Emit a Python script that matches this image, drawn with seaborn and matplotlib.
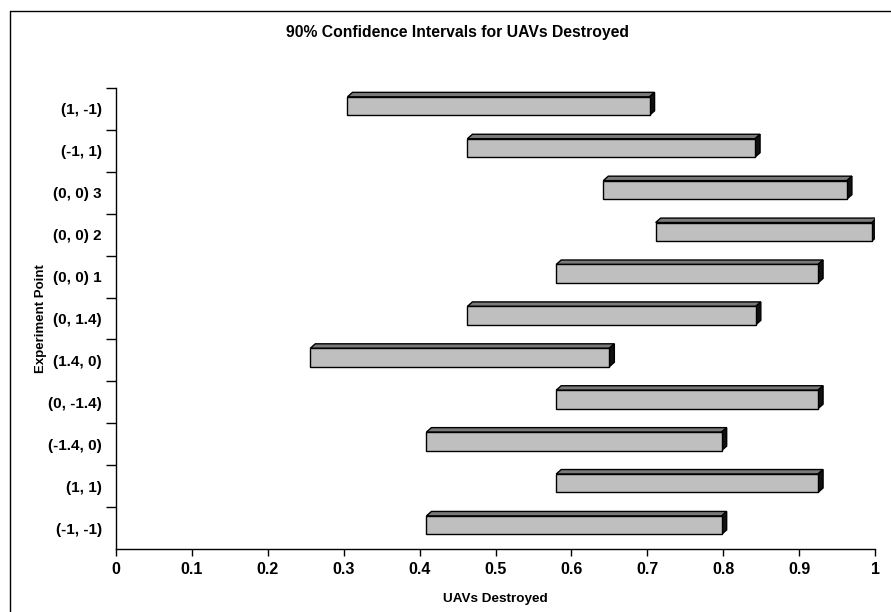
import matplotlib
matplotlib.use("Agg")
import matplotlib.pyplot as plt
from matplotlib.patches import Polygon
from matplotlib.lines import Line2D
import seaborn as sns
import pandas as pd
import numpy as np

categories = ["(1, -1)", "(-1, 1)", "(0, 0) 3", "(0, 0) 2", "(0, 0) 1", "(0, 1.4)",
              "(1.4, 0)", "(0, -1.4)", "(-1.4, 0)", "(1, 1)", "(-1, -1)"]
lower = [0.305, 0.463, 0.642, 0.711, 0.580, 0.463, 0.256, 0.580, 0.409, 0.580, 0.409]
upper = [0.703, 0.842, 0.963, 0.996, 0.925, 0.843, 0.650, 0.925, 0.798, 0.925, 0.798]
xticks = [0, 0.1, 0.2, 0.3, 0.4, 0.5, 0.6, 0.7, 0.8, 0.9, 1]
xticklabels = ["0", "0.1", "0.2", "0.3", "0.4", "0.5", "0.6", "0.7", "0.8", "0.9", "1"]

df = pd.DataFrame({"cat": categories, "lo": lower, "hi": upper})
df["width"] = df["hi"] - df["lo"]

sns.set_theme(style="white")
plt.rcParams["font.family"] = ["Liberation Sans", "DejaVu Sans"]
plt.rcParams["font.weight"] = "bold"
plt.rcParams["text.color"] = "black"
plt.rcParams["axes.labelcolor"] = "black"
plt.rcParams["xtick.color"] = "black"
plt.rcParams["ytick.color"] = "black"

fig = plt.figure(figsize=(8.91, 6.12), dpi=100)
ax = fig.add_axes([116 / 891, 1 - 549 / 612, (875 - 116) / 891, (549 - 88) / 612])

sns.barplot(data=df, x="width", y="cat", order=categories, orient="h",
            color="#bfbfbf", saturation=1, width=0.44, edgecolor="black",
            linewidth=1.0, ax=ax, zorder=3)

ax.set_xlim(0, 1)
ax.set_ylim(10.5, -0.5)

# shift bars to start at the lower bound, nudge up, and add 3D faces
fig.canvas.draw()
dx = 3.6 / 72 * fig.dpi
dy = 3.2 / 72 * fig.dpi
for patch, lo in zip(list(ax.patches), df["lo"]):
    patch.set_x(lo)
    patch.set_y(patch.get_y() - 0.07)
    x0 = patch.get_x()
    x1 = x0 + patch.get_width()
    y0 = patch.get_y()
    y1 = y0 + patch.get_height()
    top_y = min(y0, y1)
    bot_y = max(y0, y1)
    p0 = ax.transData.transform((x0, top_y))
    p1 = ax.transData.transform((x1, top_y))
    p2 = ax.transData.transform((x1, bot_y))
    inv = ax.transData.inverted()
    top_pts = inv.transform([p0, p1, (p1[0] + dx, p1[1] + dy), (p0[0] + dx, p0[1] + dy)])
    side_pts = inv.transform([p1, (p1[0] + dx, p1[1] + dy), (p2[0] + dx, p2[1] + dy), p2])
    ax.add_patch(Polygon(top_pts, closed=True, facecolor="#7a7a7a", edgecolor="black",
                         linewidth=1.0, zorder=2.9))
    ax.add_patch(Polygon(side_pts, closed=True, facecolor="#111111", edgecolor="black",
                         linewidth=1.0, zorder=2.9))

ax.set_xticks(xticks)
ax.set_xticklabels(xticklabels, fontsize=11.5, fontweight="bold")
ax.set_yticks(range(len(categories)))
ax.set_yticklabels(categories, fontsize=11, fontweight="bold")
ax.set_yticks(np.arange(-0.5, len(categories) - 0.5, 1.0), minor=True)
ax.tick_params(axis="y", which="major", length=0, pad=10)
ax.tick_params(axis="y", which="minor", left=True, length=7, width=1, color="black", direction="out")
ax.tick_params(axis="x", which="major", bottom=True, length=5, width=1, color="black", direction="out", pad=4)

for s in ["top", "right"]:
    ax.spines[s].set_visible(False)
for s in ["left", "bottom"]:
    ax.spines[s].set_color("black")
    ax.spines[s].set_linewidth(1.0)

ax.set_xlabel("UAVs Destroyed", fontsize=9.7, fontweight="bold", labelpad=12)
ax.set_ylabel("Experiment Point", fontsize=9.5, fontweight="bold", labelpad=1)
fig.text(457 / 891, 1 - 33 / 612, "90% Confidence Intervals for UAVs Destroyed",
         ha="center", va="center", fontsize=11.3, fontweight="bold")

# outer frame
fig.add_artist(Line2D([10 / 891, 10 / 891], [0, 1 - 11 / 612], color="black", linewidth=1.0,
                      transform=fig.transFigure))
fig.add_artist(Line2D([10 / 891, 1], [1 - 11 / 612, 1 - 11 / 612], color="black", linewidth=1.0,
                      transform=fig.transFigure))

fig.savefig("out.png", dpi=100)
